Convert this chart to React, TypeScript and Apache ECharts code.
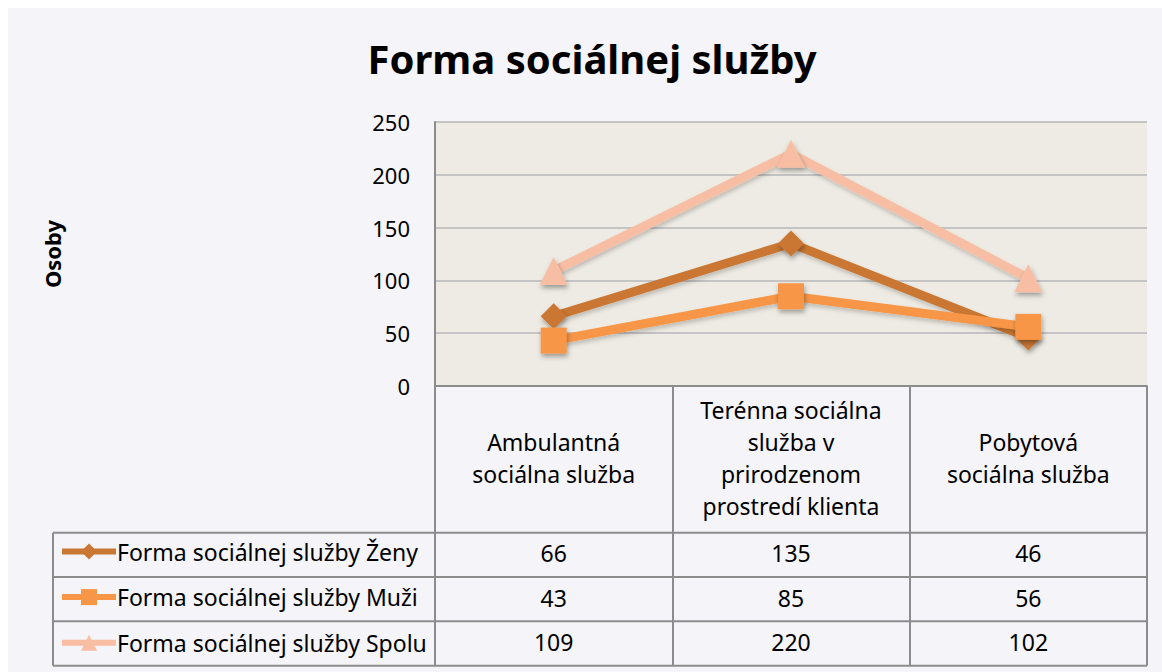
import { useEffect, useRef } from 'react';
import * as echarts from 'echarts';

const chartTitle = 'Forma sociálnej služby';
const yAxisName = 'Osoby';
const categories = [
  'Ambulantná\nsociálna služba',
  'Terénna sociálna\nslužba v\nprirodzenom\nprostredí klienta',
  'Pobytová\nsociálna služba',
];
const seriesNames = [
  'Forma sociálnej služby Ženy',
  'Forma sociálnej služby Muži',
  'Forma sociálnej služby Spolu',
];
const zeny = [66, 135, 46];
const muzi = [43, 85, 56];
const spolu = [109, 220, 102];
const yMin = 0;
const yMax = 250;
const yStep = 50;

const FONT = '"Noto Sans", Lato, sans-serif';
const colors = ['#c97733', '#f79646', '#f7bea3'];
const symbols = ['diamond', 'rect', 'triangle'];
const seriesData = [zeny, muzi, spolu];

// layout (chart-div coordinates)
const W = 1154;
const H = 664;
const gridLeft = 427;
const gridRight = 15;
const gridTop = 114;
const gridBottom = 286;
const plotBottom = H - gridBottom;
const rowLines = [524.7, 569, 613.3, 657.7];
const legendColLeft = 45;
const tableColor = '#8c8c8c';

export default function App() {
  const ref = useRef<HTMLDivElement>(null);
  useEffect(() => {
    if (!ref.current) return;
    const chart = echarts.init(ref.current, undefined, { renderer: 'svg' });
    const shadow = {
      shadowColor: 'rgba(0,0,0,0.35)',
      shadowBlur: 5,
      shadowOffsetX: 1,
      shadowOffsetY: 3,
    };
    chart.setOption({
      animation: false,
      backgroundColor: '#f5f4f9',
      textStyle: { fontFamily: FONT },
      grid: {
        left: gridLeft,
        right: gridRight,
        top: gridTop,
        bottom: gridBottom,
        show: true,
        backgroundColor: '#eeebe4',
        borderWidth: 0,
      },
      legend: {
        orient: 'vertical',
        left: 51,
        top: 532,
        padding: 0,
        itemGap: 22.6,
        itemWidth: 54,
        itemHeight: 20,
        data: seriesNames,
        lineStyle: { width: 6 },
        textStyle: { fontFamily: FONT, fontSize: 23, color: '#000', lineHeight: 20, padding: [0, 0, 0, -4] },
      },
      xAxis: {
        type: 'category',
        data: categories,
        boundaryGap: true,
        axisLine: { show: true, lineStyle: { color: tableColor, width: 2 } },
        axisTick: { show: true, length: rowLines[3] - plotBottom, lineStyle: { color: tableColor, width: 2 } },
        axisLabel: {
          fontFamily: FONT,
          fontSize: 23,
          color: '#000',
          lineHeight: 32,
          verticalAlign: 'middle',
          margin: (rowLines[0] - plotBottom) / 2 - 1,
          interval: 0,
        },
        splitLine: { show: false },
      },
      yAxis: {
        type: 'value',
        min: yMin,
        max: yMax,
        interval: yStep,
        name: yAxisName,
        nameLocation: 'middle',
        nameGap: 372,
        nameTextStyle: { fontFamily: FONT, fontSize: 22, fontWeight: 'bold', color: '#000' },
        axisLine: { show: true, lineStyle: { color: tableColor, width: 2 } },
        axisTick: { show: false },
        axisLabel: { fontFamily: FONT, fontSize: 22, color: '#000', margin: 25 },
        splitLine: { show: true, lineStyle: { color: '#c4c4c4', width: 2 } },
      },
      series: seriesNames.map((name, i) => ({
        name,
        type: 'line',
        data: seriesData[i],
        symbol: symbols[i],
        symbolSize: i === 2 ? 28 : 26,
        color: colors[i],
        lineStyle: { color: colors[i], width: 9, ...shadow, shadowBlur: 4, shadowColor: 'rgba(0,0,0,0.2)' },
        itemStyle: { color: colors[i], ...shadow },
        z: 2 + i,
      })),
    });

    const graphic: any[] = [];
    graphic.push({
      type: 'text',
      x: 584,
      y: 50,
      style: {
        text: chartTitle,
        fontFamily: FONT,
        fontSize: 40,
        fontWeight: 'bold',
        fill: '#000',
        textAlign: 'center',
        textVerticalAlign: 'middle',
      },
    });
    const rightX = W - gridRight;
    rowLines.forEach((y) => {
      graphic.push({
        type: 'line',
        shape: { x1: legendColLeft, y1: y, x2: rightX, y2: y },
        style: { stroke: tableColor, lineWidth: 2 },
      });
    });
    graphic.push({
      type: 'line',
      shape: { x1: legendColLeft, y1: rowLines[0], x2: legendColLeft, y2: rowLines[3] },
      style: { stroke: tableColor, lineWidth: 2 },
    });
    seriesData.forEach((vals, r) => {
      const cy = (rowLines[r] + rowLines[r + 1]) / 2 - 1.5;
      vals.forEach((v, c) => {
        const cx = chart.convertToPixel({ xAxisIndex: 0 }, c) as number;
        graphic.push({
          type: 'text',
          x: cx,
          y: cy,
          style: {
            text: String(v),
            fontFamily: FONT,
            fontSize: 23,
            fill: '#000',
            textAlign: 'center',
            textVerticalAlign: 'middle',
          },
        });
      });
    });
    chart.setOption({ graphic });
    return () => chart.dispose();
  }, []);
  return (
    <div
      ref={ref}
      style={{ position: 'absolute', left: 8, top: 8, width: W, height: H }}
    />
  );
}
